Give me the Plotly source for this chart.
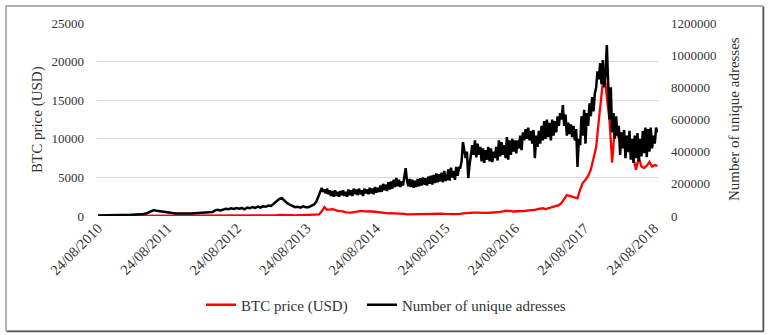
import pandas as pd
import plotly.graph_objects as go

# ---------------- DATA ----------------
# price: 14-day sampling
dates = pd.date_range(start="2010-08-24", periods=211, freq="14D")

btc_price_usd = [
    # 2010-08 .. 2011-08
    0.07, 0.06, 0.1, 0.2, 0.25, 0.3, 0.3, 0.3, 0.4, 0.9, 1, 0.9, 0.8, 0.9, 1.5, 3, 7, 8, 18, 25, 17, 15, 14, 14, 12, 13, 10,
    # 2011-08 .. 2012-08
    8, 6, 5, 5, 3, 3, 3, 4, 4, 5, 6, 5, 5, 5, 5, 5, 5, 5, 5, 5, 6, 7, 7, 9, 9, 11,
    # 2012-08 .. 2013-08
    11, 10, 11, 12, 12, 11, 11, 13, 13, 13, 14, 20, 28, 45, 80, 140, 150, 100, 120, 110, 100, 70, 75, 95, 105, 100,
    # 2013-08 .. 2014-08
    110, 125, 130, 140, 200, 600, 1150, 800, 850, 900, 800, 650, 620, 600, 480, 450, 450, 500, 580, 620, 650, 600, 620, 590, 580, 550,
    # 2014-08 .. 2015-08
    500, 480, 400, 390, 340, 380, 370, 350, 320, 310, 280, 220, 230, 250, 240, 260, 240, 230, 220, 240, 250, 245, 270, 280, 290, 265,
    # 2015-08 .. 2016-08
    230, 230, 235, 245, 240, 285, 330, 380, 360, 420, 440, 430, 410, 380, 400, 410, 420, 440, 450, 460, 530, 600, 700, 650, 670, 580,
    # 2016-08 .. 2017-08
    580, 600, 610, 650, 700, 720, 760, 780, 900, 970, 1000, 900, 1000, 1050, 1150, 1250, 1400, 1700, 2200, 2700, 2600, 2500, 2400, 2300, 3400, 4300,
    # 2017-08 .. 2018-09
    4700, 5200, 6000, 7300, 8900, 12400, 15900, 18900, 15400, 12500, 6900, 11500, 10500, 9800, 9000, 8800, 8400, 8900, 7400, 6000, 7600, 6400, 6200, 6500, 7000, 6400, 6600, 6500,
]

# addresses: 14-day sampling until Oct 2013, weekly afterwards (values in thousands)
addr_dates = list(dates[:82]) + list(pd.date_range(start=dates[82], periods=257, freq="7D"))

unique_addresses_k = [
    # 2010-08 .. 2011-08 (14-day)
    3, 3, 4, 4, 4, 5, 5, 5, 6, 6, 6, 7, 7, 8, 8, 9, 10, 12, 15, 22, 30, 37, 33, 30, 26, 24, 22,
    # 2011-08 .. 2012-08
    20, 18, 16, 15, 15, 14, 14, 15, 15, 16, 16, 17, 18, 18, 19, 20, 25, 35, 38, 34, 40, 45, 42, 48, 44, 50,
    # 2012-08 .. 2013-08
    45, 50, 42, 52, 48, 55, 50, 58, 52, 60, 58, 65, 62, 75, 90, 105, 112, 95, 80, 70, 60, 55, 58, 52, 60, 55,
    # 2013-08 .. 2013-10
    55, 62, 70,
    # weekly from Oct 2013
    90, 110, 140, 160, 175, 150, 165, 140, 170, 135,
    160, 125, 155, 120, 160, 125, 150, 120, 155, 130,
    160, 125, 150, 120, 165, 130, 160, 125, 170, 135,
    165, 130, 170, 135, 160, 125, 170, 140, 165, 135,
    175, 140, 170, 135, 180, 145, 175, 150, 190, 150,
    200, 160, 195, 155, 210, 165, 215, 170, 225, 180,
    236, 185, 225, 180, 215, 190, 250, 298, 220, 185,
    230, 180, 225, 175, 220, 180, 230, 185, 235, 190,
    240, 195, 235, 190, 245, 200, 250, 195, 255, 205,
    265, 210, 260, 215, 270, 210, 280, 220,
    # weekly from Aug 2015
    230, 290, 220, 300, 240, 280, 225, 305, 250, 300,
    300, 340, 460, 420, 360, 400, 236, 320, 400, 440,
    380, 470, 365, 450, 380, 430, 340, 420, 330, 410,
    350, 430, 340, 420, 335, 400, 360, 430, 345, 470,
    370, 460, 380, 440, 360, 490, 350, 470, 380, 480,
    400, 470, 390, 470, 420, 500, 410, 520, 470, 540,
    480, 550, 470, 530, 450, 535, 360, 500, 430, 530,
    450, 560, 470, 590, 480, 600, 490, 580, 470, 600,
    500, 590, 520, 620, 560, 640, 600, 690, 560, 630,
    500, 580, 510, 570, 490, 560, 470, 540, 305, 480,
    440, 620, 500, 660, 450, 640, 560, 700, 620, 740,
    650, 760, 800, 900, 850, 950, 820, 970, 800, 880,
    1063, 750, 600, 800, 520, 640, 480, 620, 500, 560,
    380, 520, 420, 535, 360, 500, 400, 530, 350, 480,
    330, 500, 360, 515, 340, 480, 370, 530, 390, 550,
    365, 540, 400, 550, 420, 500, 450, 550, 520,
]
unique_addresses = [v * 1000 for v in unique_addresses_k]

tick_dates = ["2010-08-24", "2011-08-24", "2012-08-24", "2013-08-24", "2014-08-24",
              "2015-08-24", "2016-08-24", "2017-08-24", "2018-08-24"]
tick_labels = ["24/08/2010", "24/08/2011", "24/08/2012", "24/08/2013", "24/08/2014",
               "24/08/2015", "24/08/2016", "24/08/2017", "24/08/2018"]

price_ticks = [0, 5000, 10000, 15000, 20000, 25000]
addr_ticks = [0, 200000, 400000, 600000, 800000, 1000000, 1200000]

# ---------------- LAYOUT CONSTANTS ----------------
W, H = 768, 335
L, R, T, B = 97, 110, 23, 119
PW, PH = W - L - R, H - T - B
FONT = "Liberation Serif"
TXT = "#333333"


def px(x):
    return (x - L) / PW


def py(y):
    return (H - B - y) / PH


fig = go.Figure()
fig.add_trace(go.Scatter(
    x=addr_dates, y=unique_addresses, name="Number of unique adresses", yaxis="y2",
    mode="lines", line=dict(color="#000000", width=2.5), legend="legend2",
))
fig.add_trace(go.Scatter(
    x=dates, y=btc_price_usd, name="BTC price (USD)", yaxis="y",
    mode="lines", line=dict(color="#ff0000", width=2.3), legend="legend",
))

leg_common = dict(orientation="h", xanchor="left", y=py(305), yanchor="middle",
                  font=dict(family=FONT, size=15, color=TXT), bgcolor="rgba(0,0,0,0)",
                  itemwidth=30)

fig.update_layout(
    width=W, height=H,
    margin=dict(l=L, r=R, t=T, b=B, autoexpand=False),
    paper_bgcolor="white", plot_bgcolor="white",
    font=dict(family=FONT, size=13, color=TXT),
    showlegend=True,
    legend=dict(x=px(201), **leg_common),
    legend2=dict(x=px(362), **leg_common),
    xaxis=dict(
        type="date", range=["2010-08-19", "2018-09-14"],
        tickvals=tick_dates, ticktext=tick_labels, tickangle=-45,
        showgrid=False, zeroline=False, showline=False, ticks="",
        tickfont=dict(family=FONT, size=14.5, color=TXT),
    ),
    yaxis=dict(
        range=[0, 25000], tickvals=price_ticks, tickformat="d", showgrid=True,
        gridcolor="#d9d9d9", gridwidth=1,
        zeroline=False, showline=False, ticks="", ticklabelstandoff=12,
        tickfont=dict(family=FONT, size=13, color=TXT),
    ),
    yaxis2=dict(
        range=[0, 1200000], tickvals=addr_ticks, tickformat="d", overlaying="y", side="right",
        showgrid=False, zeroline=False, showline=False, ticks="", ticklabelstandoff=12,
        tickfont=dict(family=FONT, size=13, color=TXT),
    ),
    annotations=[
        dict(text="BTC price (USD)", textangle=-90, xref="paper", yref="paper",
             x=px(37), y=py(120), xanchor="center", yanchor="middle", showarrow=False,
             font=dict(family=FONT, size=15, color=TXT)),
        dict(text="Number of unique adresses", textangle=-90, xref="paper", yref="paper",
             x=px(734), y=py(119), xanchor="center", yanchor="middle", showarrow=False,
             font=dict(family=FONT, size=15, color=TXT)),
    ],
    shapes=[
        dict(type="rect", xref="paper", yref="paper", x0=px(6), x1=px(763), y0=py(331), y1=py(6),
             line=dict(color="#9a9a9a", width=1.5), layer="above"),
        dict(type="line", xref="paper", yref="paper", x0=px(7), x1=px(763.5), y0=py(331.5), y1=py(331.5),
             line=dict(color="#555555", width=1.5), layer="above"),
        dict(type="line", xref="paper", yref="paper", x0=px(763.5), x1=px(763.5), y0=py(331.5), y1=py(7),
             line=dict(color="#555555", width=1.5), layer="above"),
    ],
)

fig.write_html("out.html")
